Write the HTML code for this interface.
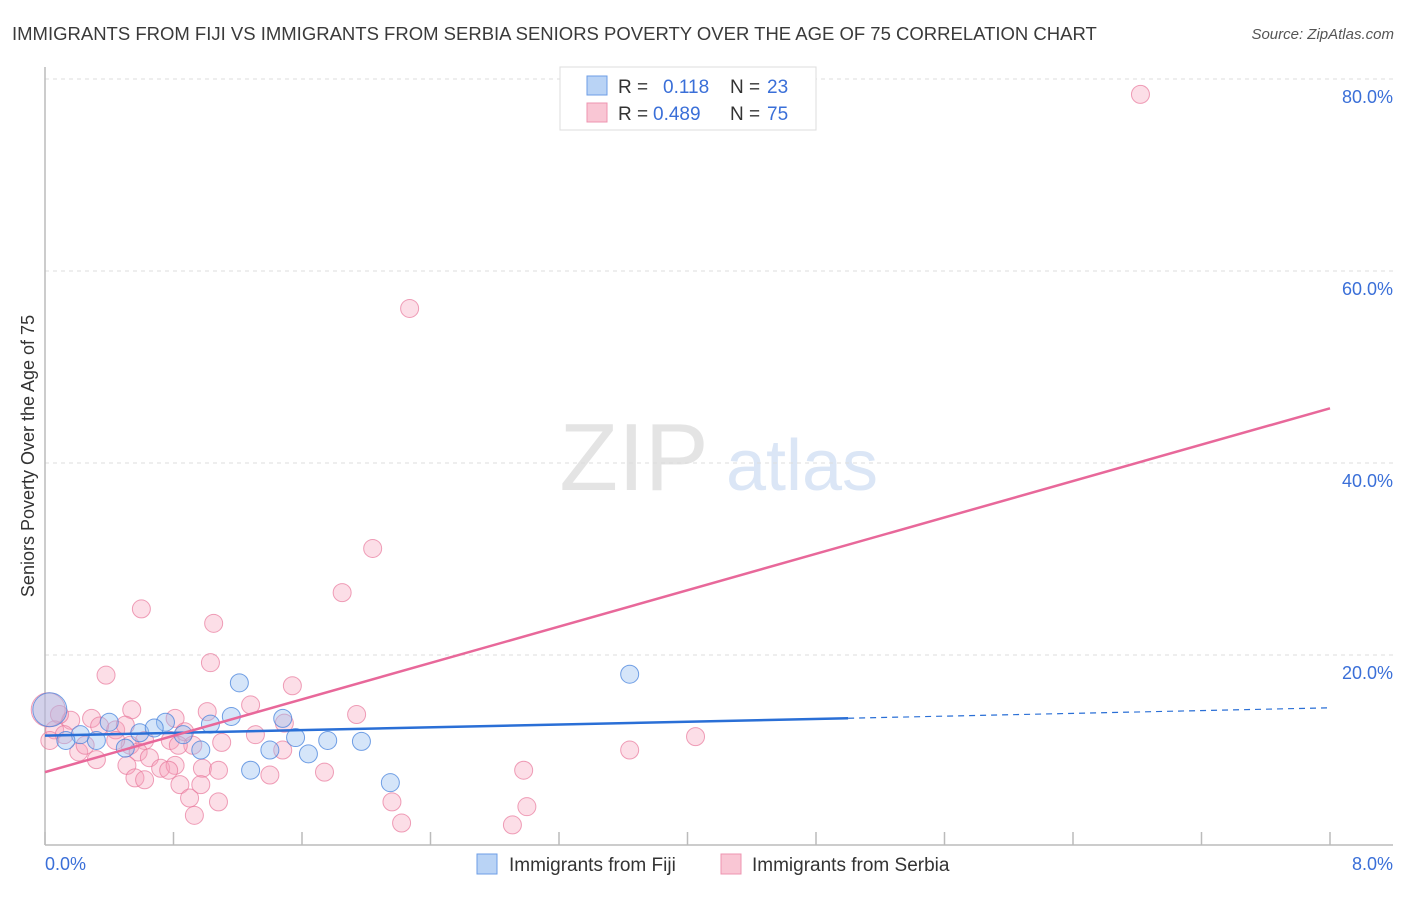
<!DOCTYPE html>
<html><head><meta charset="utf-8"><style>
body{margin:0;background:#fff;font-family:"Liberation Sans",sans-serif}
svg text{font-family:"Liberation Sans",sans-serif}
</style></head><body>
<svg id="chart" width="1406" height="892" viewBox="0 0 1406 892" xmlns="http://www.w3.org/2000/svg">
<text x="12" y="40" font-size="18.5" fill="#3a3a3a">IMMIGRANTS FROM FIJI VS IMMIGRANTS FROM SERBIA SENIORS POVERTY OVER THE AGE OF 75 CORRELATION CHART</text>
<text x="1394" y="39" font-size="15" fill="#555" font-style="italic" text-anchor="end">Source: ZipAtlas.com</text>
<g>
<text x="634" y="490" font-size="96" fill="#e4e4e4" font-family="Liberation Serif,serif" text-anchor="middle">ZIP</text>
<text x="802" y="490" font-size="72" fill="#dbe6f6" text-anchor="middle">atlas</text>
</g>
<g id="grid"></g>
<g id="axes"></g>
<g id="marks"></g>
<g>
<rect x="560" y="67" width="256" height="63" fill="#fff" stroke="#ddd"/>
<rect x="587" y="76" width="20" height="19" fill="#b9d3f5" stroke="#6d9ee6"/>
<rect x="587" y="103" width="20" height="19" fill="#f9c6d4" stroke="#ee94b0"/>
<text x="618" y="93" font-size="19" fill="#333">R = </text><text x="663" y="93" font-size="19" fill="#3a6fd8">0.118</text>
<text x="730" y="93" font-size="19" fill="#333">N = </text><text x="767" y="93" font-size="19" fill="#3a6fd8">23</text>
<text x="618" y="120" font-size="19" fill="#333">R = </text><text x="653" y="120" font-size="19" fill="#3a6fd8">0.489</text>
<text x="730" y="120" font-size="19" fill="#333">N = </text><text x="767" y="120" font-size="19" fill="#3a6fd8">75</text>
</g>
<g>
<rect x="477" y="854" width="20" height="20" fill="#b9d3f5" stroke="#6d9ee6"/>
<text x="509" y="871" font-size="19" fill="#333">Immigrants from Fiji</text>
<rect x="721" y="854" width="20" height="20" fill="#f9c6d4" stroke="#ee94b0"/>
<text x="752" y="871" font-size="19" fill="#333">Immigrants from Serbia</text>
</g>
<text transform="translate(34,456) rotate(-90)" font-size="18" fill="#333" text-anchor="middle">Seniors Poverty Over the Age of 75</text>
</svg>
<script>
const xTickLabels=["0.0%","8.0%"];
const yTicks=[20,40,60,80];
const fijiX=[0.03,0.40,0.32,0.50,0.59,0.75,0.68,0.86,0.97,1.03,1.16,1.21,1.28,1.40,1.48,1.56,1.64,1.76,1.97,2.15,3.64,0.22,0.13];
const fijiY=[14.3,13.0,11.1,10.3,11.9,13.0,12.4,11.7,10.1,12.8,13.6,17.1,8.0,10.1,13.4,11.4,9.7,11.1,11.0,6.7,18.0,11.7,11.1];
const serbiaX=[6.82,2.27,2.04,1.85,0.60,1.05,1.03,0.38,1.54,1.28,1.01,1.94,0.54,0.81,1.49,0.29,0.16,0.09,0.06,0.12,0.34,0.44,0.50,0.62,0.78,0.87,0.92,0.83,1.10,1.31,0.53,0.58,0.21,0.32,0.65,0.72,0.81,0.98,1.08,0.51,0.56,0.62,0.77,0.84,0.90,0.93,1.08,0.97,1.40,1.74,1.48,3.64,4.05,2.98,2.16,2.22,3.00,2.91,0.44,0.25,0.03,0.02];
const serbiaY=[78.4,56.1,31.1,26.5,24.8,23.3,19.2,17.9,16.8,14.8,14.1,13.8,14.3,13.4,12.9,13.4,13.2,13.8,12.2,11.7,12.6,12.2,12.7,11.1,11.1,12.0,10.6,10.6,10.9,11.7,10.6,9.9,9.9,9.1,9.3,8.2,8.5,8.2,8.0,8.5,7.2,7.0,8.0,6.5,5.1,3.3,4.7,6.5,7.5,7.8,10.1,10.1,11.5,8.0,4.7,2.5,4.2,2.3,11.1,10.6,11.1,14.3];
const fijiTrend=[11.6,14.5];
const serbiaTrend=[7.8,45.7];
const NS="http://www.w3.org/2000/svg";
const X=v=>45+v/8*1285;
const Y=v=>847-v*9.6;
function mk(tag,attrs,parent){const e=document.createElementNS(NS,tag);for(const k in attrs)e.setAttribute(k,attrs[k]);document.getElementById(parent).appendChild(e);return e;}
yTicks.forEach(t=>{
  const l=mk('line',{x1:45,x2:1393,y1:Y(t),y2:Y(t),stroke:'#ddd','stroke-dasharray':'4,4'},'grid');
  
  
  const tx=mk('text',{x:1393,y:Y(t)+24,'font-size':18,fill:'#3a6fd8','text-anchor':'end'},'grid');
  tx.textContent=t.toFixed(1)+'%';
  
  
});
const ax=mk('line',{x1:45,x2:45,y1:67,y2:845,stroke:'#bbb','stroke-width':1.5},'axes');


const bx=mk('line',{x1:45,x2:1393,y1:845,y2:845,stroke:'#bbb','stroke-width':1.5},'axes');


for(let i=0;i<=10;i++){
  const t=mk('line',{x1:X(i*0.8),x2:X(i*0.8),y1:832,y2:845,stroke:'#bbb','stroke-width':1.5},'axes');
  
  
}
const xl0=mk('text',{x:45,y:870,'font-size':18,fill:'#3a6fd8'},'axes');xl0.textContent=xTickLabels[0];


const xl1=mk('text',{x:1393,y:870,'font-size':18,fill:'#3a6fd8','text-anchor':'end'},'axes');xl1.textContent=xTickLabels[1];


serbiaX.forEach((x,i)=>{
  const c=mk('circle',{cx:X(x),cy:Y(serbiaY[i]),r:(i==serbiaX.length-1?17:9),fill:'rgba(245,160,185,0.35)',stroke:'rgba(232,120,155,0.7)','stroke-width':1},'marks');
  
  
});
fijiX.forEach((x,i)=>{
  const c=mk('circle',{cx:X(x),cy:Y(fijiY[i]),r:(i==0?17:9),fill:'rgba(150,190,240,0.4)',stroke:'rgba(70,130,220,0.75)','stroke-width':1},'marks');
  
  
});
const fAt=v=>fijiTrend[0]+(fijiTrend[1]-fijiTrend[0])*v/8;
const f1=mk('line',{x1:X(0),y1:Y(fAt(0)),x2:X(5),y2:Y(fAt(5)),stroke:'#2a6fd6','stroke-width':2.5},'marks');


const f2=mk('line',{x1:X(5),y1:Y(fAt(5)),x2:X(8),y2:Y(fAt(8)),stroke:'#2a6fd6','stroke-width':1.2,'stroke-dasharray':'6,5'},'marks');


const s1=mk('line',{x1:X(0),y1:Y(serbiaTrend[0]),x2:X(8),y2:Y(serbiaTrend[1]),stroke:'#e8689a','stroke-width':2.5},'marks');


</script>
</body></html>
